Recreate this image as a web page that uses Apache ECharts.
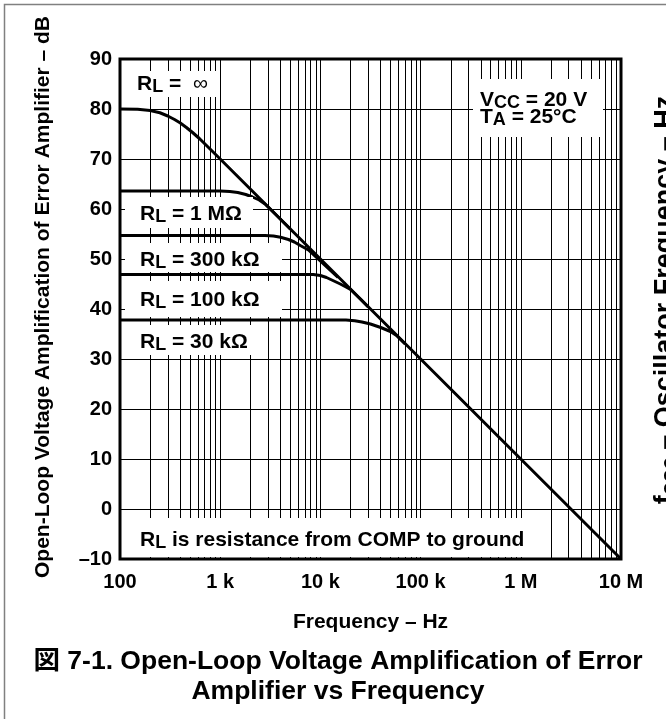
<!DOCTYPE html>
<html>
<head>
<meta charset="utf-8">
<script src="https://cdn.jsdelivr.net/npm/echarts@6/dist/echarts.min.js"></script>
<style>
  html, body { margin: 0; padding: 0; background: #fff; }
  #chart { width: 666px; height: 719px; }
</style>
</head>
<body>
<div id="chart"></div>
<script>
// gain curves: frequency (Hz) and open-loop gain (dB)
const freqInf = [100, 150, 200, 250, 300, 350, 400, 460, 530, 620, 1000, 10000, 100000, 1000000, 10000000]
const gainInf = [80, 79.95, 79.7, 79.25, 78.6, 77.9, 77.2, 76.3, 75.3, 74.1, 70, 50, 30, 10, -10]

const freq1M = [100, 1000, 1250, 1500, 1800, 2100, 2450, 2800, 3500, 5000]
const gain1M = [63.6, 63.6, 63.5, 63.3, 62.9, 62.4, 61.8, 61.0, 59.1, 56.0]

const freq300k = [100, 2800, 3400, 4000, 4800, 5500, 6300, 7600, 9500, 12000, 15000]
const gain300k = [54.7, 54.7, 54.6, 54.35, 53.9, 53.4, 52.7, 51.8, 50.0, 48.1, 46.3]

const freq100k = [100, 8500, 10000, 11500, 13000, 15800, 18000, 20000, 25000, 30000]
const gain100k = [46.9, 46.9, 46.7, 46.3, 45.8, 45.0, 44.4, 43.9, 42.0, 40.4]

const freq30k = [100, 18000, 22000, 26000, 31600, 40000, 50000, 57500, 70000]
const gain30k = [37.8, 37.8, 37.65, 37.4, 37.0, 36.3, 35.5, 34.7, 33.0]

// x axis ticks
const decades = [100, 1000, 10000, 100000, 1000000]
const minorSteps = [2, 3, 4, 5, 6, 7, 8, 9]
const freqTicks = [100, 1000, 10000, 100000, 1000000, 10000000]
const freqTickLabels = ['100', '1 k', '10 k', '100 k', '1 M', '10 M']

const FONT = "'Liberation Sans', Arial, 'Noto Sans CJK JP', sans-serif"

const pairs = (xs, ys) => xs.map((x, i) => [x, ys[i]])

const minorLines = []
decades.forEach(d => minorSteps.forEach(k => minorLines.push({ xAxis: d * k })))

const curve = (name, xs, ys) => ({
  name,
  type: 'line',
  data: pairs(xs, ys),
  showSymbol: false,
  lineStyle: { color: '#000', width: 3, join: 'round' },
  z: 3,
  animation: false
})

const rich = {
  b: { fontSize: 21, fontWeight: 'bold', fontFamily: FONT, fill: '#000', padding: [0, 0, 6, 0] },
  s: { fontSize: 18, fontWeight: 'bold', fontFamily: FONT, fill: '#000' },
  inf: { fontSize: 21, fontFamily: FONT, fill: '#000', padding: [0, 0, 6, 0] }
}

const box = (x, y, w, h) => ({
  type: 'rect', z: 50,
  shape: { x, y, width: w, height: h },
  style: { fill: '#fff' }
})
const label = (x, y, text) => ({
  type: 'text', z: 51, x, y: y + 3,
  style: { text, rich, align: 'left', verticalAlign: 'middle' }
})

const chart = echarts.init(document.getElementById('chart'))

chart.setOption({
  backgroundColor: '#fff',
  animation: false,
  grid: {
    left: 120, top: 59, width: 501, height: 500,
    show: true, borderColor: '#000', borderWidth: 3
  },
  xAxis: {
    type: 'log',
    logBase: 10,
    min: 100,
    max: 10000000,
    splitNumber: 5,
    name: 'Frequency – Hz',
    nameLocation: 'middle',
    nameGap: 53,
    nameTextStyle: { fontSize: 21, fontWeight: 'bold', fontFamily: FONT, color: '#000' },
    axisLine: { show: false },
    axisTick: { show: false },
    axisLabel: {
      margin: 13,
      fontSize: 20, fontWeight: 'bold', fontFamily: FONT, color: '#000',
      showMinLabel: true, showMaxLabel: true,
      formatter: v => {
        const i = freqTicks.indexOf(Math.round(v))
        return i >= 0 ? freqTickLabels[i] : ''
      }
    },
    splitLine: { show: true, lineStyle: { color: '#000', width: 1 } }
  },
  yAxis: {
    type: 'value',
    min: -10,
    max: 90,
    interval: 10,
    axisLine: { show: false },
    axisTick: { show: false },
    axisLabel: {
      margin: 8,
      fontSize: 20, fontWeight: 'bold', fontFamily: FONT, color: '#000',
      formatter: v => (v < 0 ? '–' + Math.abs(v) : String(v))
    },
    splitLine: { show: true, lineStyle: { color: '#000', width: 1 } }
  },
  series: [
    {
      name: 'minor grid',
      type: 'line',
      data: [],
      z: 1,
      silent: true,
      markLine: {
        silent: true,
        symbol: ['none', 'none'],
        label: { show: false },
        lineStyle: { color: '#000', width: 1, type: 'solid' },
        data: minorLines,
        animation: false
      }
    },
    curve('RL = ∞', freqInf, gainInf),
    curve('RL = 1 MΩ', freq1M, gain1M),
    curve('RL = 300 kΩ', freq300k, gain300k),
    curve('RL = 100 kΩ', freq100k, gain100k),
    curve('RL = 30 kΩ', freq30k, gain30k)
  ],
  graphic: [
    // outer frame of the figure
    {
      type: 'polyline', z: 60,
      shape: { points: [[4.5, 719], [4.5, 4.5], [666, 4.5]] },
      style: { stroke: '#808080', lineWidth: 1.5, fill: null }
    },
    box(128, 71, 90, 26),
    label(137, 84, '{b|R}{s|L}{b| =  }{inf|∞}'),
    box(125, 197, 128, 31),
    label(140, 214, '{b|R}{s|L}{b| = 1 MΩ}'),
    box(125, 243, 157, 29),
    label(140, 260, '{b|R}{s|L}{b| = 300 kΩ}'),
    box(125, 281, 157, 36),
    label(140, 300, '{b|R}{s|L}{b| = 100 kΩ}'),
    box(125, 325, 130, 30),
    label(140, 342, '{b|R}{s|L}{b| = 30 kΩ}'),
    box(473, 79, 130, 58),
    label(480, 100, '{b|V}{s|CC}{b| = 20 V}'),
    label(480, 117, '{b|T}{s|A}{b| = 25°C}'),
    box(124, 518, 420, 39),
    label(140, 540, '{b|R}{s|L}{b| is resistance from COMP to ground}'),
    {
      type: 'text', z: 51, x: 43, y: 297, rotation: Math.PI / 2,
      style: {
        text: 'Open-Loop Voltage Amplification of Error Amplifier – dB',
        fontSize: 21, fontWeight: 'bold', fontFamily: FONT, fill: '#000',
        align: 'center', verticalAlign: 'middle'
      }
    },
    {
      type: 'text', z: 51, x: 670, y: 300, rotation: Math.PI / 2,
      style: {
        text: '{b|f}{s|osc}{b| – Oscillator Frequency – Hz}',
        rich: {
          b: { fontSize: 27, fontWeight: 'bold', fontFamily: FONT, fill: '#000', padding: [0, 0, 8, 0] },
          s: { fontSize: 22, fontWeight: 'bold', fontFamily: FONT, fill: '#000' }
        },
        align: 'center', verticalAlign: 'middle'
      }
    },
    {
      type: 'text', z: 51, x: 338, y: 662,
      style: {
        text: '図 7-1. Open-Loop Voltage Amplification of Error',
        fontSize: 26.5, fontWeight: 'bold', fontFamily: FONT, fill: '#000',
        align: 'center', verticalAlign: 'middle'
      }
    },
    {
      type: 'text', z: 51, x: 338, y: 692,
      style: {
        text: 'Amplifier vs Frequency',
        fontSize: 26.5, fontWeight: 'bold', fontFamily: FONT, fill: '#000',
        align: 'center', verticalAlign: 'middle'
      }
    }
  ]
})
</script>
</body>
</html>
